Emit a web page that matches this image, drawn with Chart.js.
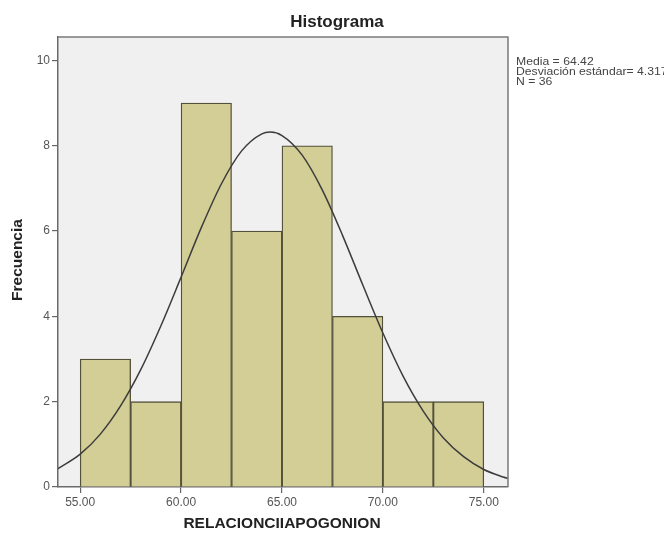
<!DOCTYPE html>
<html>
<head>
<meta charset="utf-8">
<script src="https://cdn.jsdelivr.net/npm/chart.js@4/dist/chart.umd.min.js"></script>
<style>
  html, body { margin: 0; padding: 0; background: #ffffff; }
  #wrap { width: 664px; height: 533px; }
</style>
</head>
<body>
<div id="wrap"><canvas id="c" width="664" height="533"></canvas></div>
<script>
// ---- data ----
const binCenters = [56.25, 58.75, 61.25, 63.75, 66.25, 68.75, 71.25, 73.75];
const frequencies = [3, 2, 9, 6, 8, 4, 2, 2];
const curveX = [53.9, 55, 56, 57, 58, 59, 60, 61, 62, 63, 64, 64.42, 65, 66, 67, 68, 69, 70, 71, 72, 73, 74, 75, 76, 76.2];
const curveY = [0.43, 0.77, 1.24, 1.90, 2.75, 3.78, 4.92, 6.08, 7.11, 7.88, 8.28, 8.32, 8.24, 7.78, 6.96, 5.90, 4.74, 3.61, 2.60, 1.78, 1.15, 0.71, 0.41, 0.23, 0.20];
const xTicks = [55, 60, 65, 70, 75];
const yTicks = [0, 2, 4, 6, 8, 10];
const statsLines = ["Media = 64.42", "Desviación estándar= 4.317", "N = 36"];
const chartTitle = "Histograma";
const xTitle = "RELACIONCIIAPOGONION";
const yTitle = "Frecuencia";

const FONT = "'Liberation Sans', Arial, sans-serif";

const decor = {
  id: 'decor',
  beforeDraw(chart) {
    const { ctx, chartArea: a } = chart;
    ctx.save();
    ctx.fillStyle = '#ffffff';
    ctx.fillRect(0, 0, chart.width, chart.height);
    ctx.fillStyle = '#f0f0f0';
    ctx.fillRect(a.left, a.top, a.right - a.left, a.bottom - a.top);
    ctx.restore();
  },
  afterDraw(chart) {
    const { ctx, chartArea: a } = chart;
    ctx.save();
    ctx.strokeStyle = '#7a7a7a';
    ctx.lineWidth = 1.5;
    ctx.beginPath();
    ctx.moveTo(a.left, a.top);
    ctx.lineTo(a.right, a.top);
    ctx.lineTo(a.right, a.bottom);
    ctx.stroke();

    // main title
    ctx.fillStyle = '#222';
    ctx.textAlign = 'center';
    ctx.textBaseline = 'middle';
    ctx.font = "bold 17px " + FONT;
    ctx.fillText(chartTitle, 337, 22);

    // x title
    ctx.font = "bold 15.5px " + FONT;
    ctx.fillText(xTitle, 282, 524);

    // y title
    ctx.save();
    ctx.translate(18, 260);
    ctx.rotate(-Math.PI / 2);
    ctx.font = "bold 15.5px " + FONT;
    ctx.fillText(yTitle, 0, 0);
    ctx.restore();

    // stats text (condensed vertically like the SPSS annotation)
    ctx.fillStyle = '#444';
    ctx.textAlign = 'left';
    ctx.font = "10px " + FONT;
    statsLines.forEach((s, i) => {
      ctx.save();
      ctx.translate(516, 62.5 + i * 10);
      ctx.scale(1.22, 1);
      ctx.fillText(s, 0, 0);
      ctx.restore();
    });
    ctx.restore();
  }
};

new Chart(document.getElementById('c'), {
  data: {
    datasets: [
      {
        type: 'line',
        data: curveX.map((x, i) => ({ x: x, y: curveY[i] })),
        borderColor: '#3c3c3c',
        borderWidth: 1.5,
        pointRadius: 0,
        cubicInterpolationMode: 'monotone',
        fill: false,
        order: 0
      },
      {
        type: 'bar',
        data: binCenters.map((x, i) => ({ x: x, y: frequencies[i] })),
        backgroundColor: '#d3cd96',
        borderColor: '#52503a',
        borderWidth: 1.3,
        barPercentage: 1,
        categoryPercentage: 1,
        grouped: false,
        order: 1
      }
    ]
  },
  options: {
    responsive: false,
    animation: false,
    devicePixelRatio: 1,
    layout: { padding: { left: 0, top: 37, right: 156, bottom: 0 } },
    plugins: { legend: { display: false }, tooltip: { enabled: false }, title: { display: false } },
    scales: {
      x: {
        type: 'linear',
        offset: false,
        min: 53.9,
        max: 76.2,
        afterFit(s) { s.height = 46; },
        afterBuildTicks(s) { s.ticks = xTicks.map(v => ({ value: v })); },
        grid: { drawOnChartArea: false, tickLength: 6, color: '#666', lineWidth: 1.2, offset: false },
        border: { color: '#6a6a6a', width: 1.5 },
        ticks: {
          color: '#555',
          font: { family: FONT, size: 12 },
          padding: 2,
          maxRotation: 0,
          autoSkip: false,
          callback: v => Number(v).toFixed(2)
        }
      },
      y: {
        type: 'linear',
        min: 0,
        max: 10.55,
        afterFit(s) { s.width = 58; },
        afterBuildTicks(s) { s.ticks = yTicks.map(v => ({ value: v })); },
        grid: { drawOnChartArea: false, tickLength: 6, color: '#666', lineWidth: 1.2 },
        border: { color: '#6a6a6a', width: 1.5 },
        ticks: {
          color: '#555',
          font: { family: FONT, size: 12 },
          padding: 2,
          autoSkip: false
        }
      }
    }
  },
  plugins: [decor]
});
</script>
</body>
</html>
